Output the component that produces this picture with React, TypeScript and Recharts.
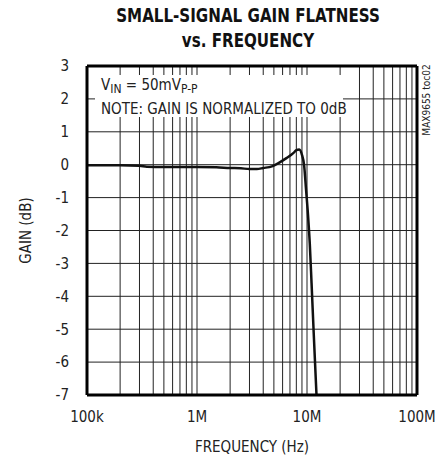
import React from "react";
import {
  LineChart,
  Line,
  XAxis,
  YAxis,
  ReferenceLine,
  Label,
} from "recharts";

const FONT = '"Liberation Sans Narrow", "Arial Narrow", "DejaVu Sans Condensed", sans-serif';

// frequency (Hz)
const freqs = [
  1e5, 2e5, 3e5, 3.5e5, 5e5, 1e6, 1.5e6, 2e6, 2.5e6, 3e6, 3.5e6, 4e6, 4.8e6,
  5.5e6, 6.5e6, 7.5e6, 8e6, 8.5e6, 9e6, 9.4e6, 9.8e6, 10.2e6, 10.6e6, 11e6,
  11.5e6, 12.2e6,
];
// gain (dB), normalized
const gains = [
  -0.02, -0.02, -0.03, -0.06, -0.07, -0.07, -0.08, -0.1, -0.11, -0.13, -0.13,
  -0.1, -0.05, 0.05, 0.2, 0.35, 0.44, 0.46, 0.3, 0.0, -0.75, -1.5, -2.4, -3.6,
  -5.1, -7,
];

const xTicks = [1e5, 1e6, 1e7, 1e8];
const xTickLabels = ["100k", "1M", "10M", "100M"];
const yTicks = [-7, -6, -5, -4, -3, -2, -1, 0, 1, 2, 3];
const minorFreqs = [1, 2, 3, 4, 5, 6, 7, 8, 9].flatMap((m) =>
  [1e5, 1e6, 1e7].map((d) => m * d)
);

const data = freqs.map((f, i) => ({ f, g: gains[i] }));

export default function App() {
  return (
    <div
      style={{
        position: "absolute",
        left: 0,
        top: 0,
        width: 435,
        height: 458,
        background: "#fff",
        fontFamily: FONT,
      }}
    >
      <div
        style={{
          position: "absolute",
          left: 0,
          width: 497,
          top: 3,
          textAlign: "center",
          fontWeight: "bold",
          fontSize: 20,
          lineHeight: "25px",
          color: "#111",
          transform: "scaleX(0.84)",
          transformOrigin: "0 0",
        }}
      >
        <div style={{ width: 595 / 1, marginLeft: 0 }} />
      </div>
      <div
        style={{
          position: "absolute",
          left: 248,
          top: 3,
          transform: "translateX(-50%) scaleX(0.84)",
          textAlign: "center",
          fontWeight: "bold",
          fontSize: 20,
          lineHeight: "25px",
          color: "#111",
          whiteSpace: "nowrap",
        }}
      >
        SMALL-SIGNAL GAIN FLATNESS
        <br />
        vs. FREQUENCY
      </div>
      <LineChart
        width={435}
        height={458}
        data={data}
        margin={{ top: 66, right: 18, bottom: 0, left: 0 }}
      >
        {minorFreqs.map((f) => (
          <ReferenceLine key={"v" + f} x={f} stroke="#222" strokeWidth={1} />
        ))}
        {yTicks.map((v) => (
          <ReferenceLine key={"h" + v} y={v} stroke="#222" strokeWidth={1} />
        ))}
        <XAxis
          dataKey="f"
          type="number"
          scale="log"
          domain={[1e5, 1e8]}
          ticks={xTicks}
          tickFormatter={(v) => xTickLabels[xTicks.indexOf(v)]}
          axisLine={false}
          tickLine={false}
          height={63}
          tick={{ fill: "#222", fontSize: 15, fontFamily: FONT, dy: 8 }}
          interval={0}
        >
          <Label
            value="FREQUENCY (Hz)"
            position="insideBottom"
            offset={6}
            style={{ fill: "#222", fontSize: 15, fontFamily: FONT }}
          />
        </XAxis>
        <YAxis
          type="number"
          domain={[-7, 3]}
          ticks={yTicks}
          axisLine={false}
          tickLine={false}
          width={87}
          interval={0}
          tick={{ fill: "#222", fontSize: 15, fontFamily: FONT, dx: -10 }}
        >
          <Label
            value="GAIN (dB)"
            angle={-90}
            position="insideLeft"
            offset={26}
            style={{ textAnchor: "middle", fill: "#222", fontSize: 15, fontFamily: FONT }}
          />
        </YAxis>
        <Line
          dataKey="g"
          type="monotone"
          stroke="#111"
          strokeWidth={2.5}
          dot={false}
          isAnimationActive={false}
        />
        <ReferenceLine x={1e5} stroke="#000" strokeWidth={3} />
        <ReferenceLine x={1e8} stroke="#000" strokeWidth={3} />
        <ReferenceLine y={3} stroke="#000" strokeWidth={3} />
        <ReferenceLine y={-7} stroke="#000" strokeWidth={3} />
      </LineChart>
      <div
        style={{
          position: "absolute",
          left: 95,
          top: 75,
          width: 248,
          height: 42,
          background: "#fff",
          fontSize: 15,
          lineHeight: "20px",
          color: "#222",
          paddingLeft: 6,
          boxSizing: "border-box",
          whiteSpace: "nowrap",
        }}
      >
        <div style={{ width: 115, background: "#fff" }}>
          V<sub style={{ fontSize: 12, verticalAlign: -3 }}>IN</sub> = 50mV
          <sub style={{ fontSize: 12, verticalAlign: -3 }}>P-P</sub>
        </div>
        <div>NOTE: GAIN IS NORMALIZED TO 0dB</div>
      </div>
      <div
        style={{
          position: "absolute",
          left: 426,
          top: 100,
          transform: "translate(-50%, -50%) rotate(-90deg)",
          fontSize: 10,
          color: "#222",
          whiteSpace: "nowrap",
        }}
      >
        MAX9655 toc02
      </div>
    </div>
  );
}
